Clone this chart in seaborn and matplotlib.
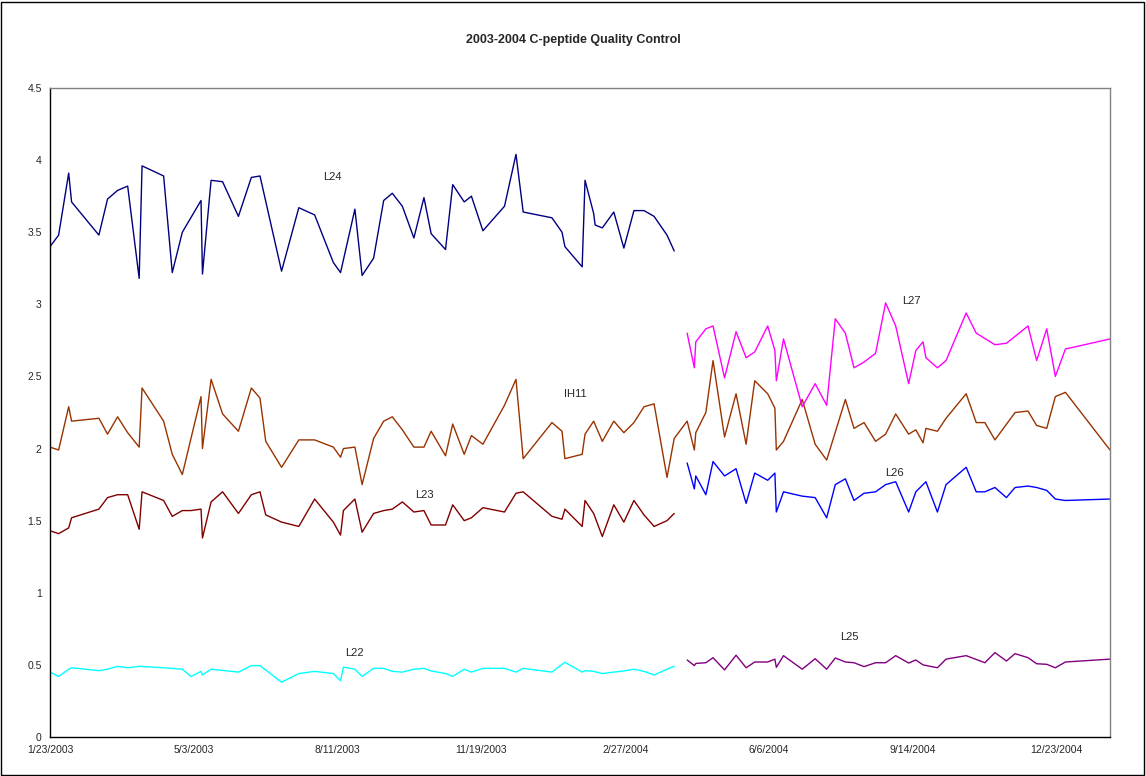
import pandas as pd
import matplotlib.pyplot as plt
import matplotlib.ticker as mticker
from matplotlib.patches import Rectangle
import seaborn as sns

# Days since 1/23/2003 for each QC run
start = pd.Timestamp("2003-01-23")
left_days = [0, 6, 13, 15, 34, 40, 47, 54, 62, 64, 79, 85, 92, 98, 105, 106, 112, 120, 131, 140,
             146, 150, 161, 173, 184, 197, 202, 204, 212, 217, 225, 232, 238, 245, 253, 260, 265, 275, 280, 288,
             293, 301, 316, 324, 329, 349, 356, 358, 370, 372, 378, 379, 384, 392, 399, 406, 413, 420, 429, 434]
right_days = [443, 448, 449, 456, 461, 469, 477, 484, 490, 499, 504, 505, 510, 523, 532, 540, 546, 553, 559, 566,
              574, 581, 588, 597, 602, 607, 609, 617, 623, 637, 644, 650, 657, 665, 671, 680, 686, 693, 699, 706, 737]

N = None
L24 = [3.40, 3.48, 3.91, 3.71, 3.48, 3.73, 3.79, 3.82, 3.18, 3.96, 3.89, 3.22, 3.50, N, 3.72, 3.21, 3.86, 3.85, 3.61, 3.88,
       3.89, N, 3.23, 3.67, 3.62, 3.29, 3.22, N, 3.66, 3.20, 3.32, 3.72, 3.77, 3.68, 3.46, 3.74, 3.49, 3.38, 3.83, 3.71,
       3.75, 3.51, 3.68, 4.04, 3.64, 3.60, 3.50, 3.40, 3.26, 3.86, 3.63, 3.55, 3.53, 3.64, 3.39, 3.65, 3.65, 3.61, 3.48, 3.37]
IH11_left = [2.01, 1.99, 2.29, 2.19, 2.21, 2.10, 2.22, 2.11, 2.01, 2.42, 2.19, 1.96, 1.82, N, 2.36, 2.00, 2.48, 2.24, 2.12, 2.42,
             2.35, 2.05, 1.87, 2.06, 2.06, 2.01, 1.94, 2.00, 2.01, 1.75, 2.07, 2.19, 2.22, 2.13, 2.01, 2.01, 2.12, 1.95, 2.17, 1.96,
             2.09, 2.03, 2.30, 2.48, 1.93, 2.18, 2.12, 1.93, 1.96, 2.10, 2.19, N, 2.05, 2.19, 2.11, 2.18, 2.29, 2.31, 1.80, 2.07]
L23 = [1.43, 1.41, 1.45, 1.52, 1.58, 1.66, 1.68, 1.68, 1.44, 1.70, 1.64, 1.53, 1.57, 1.57, 1.58, 1.38, 1.63, 1.70, 1.55, 1.68,
       1.70, 1.54, 1.49, 1.46, 1.65, 1.49, 1.40, 1.57, 1.65, 1.42, 1.55, 1.57, 1.58, 1.63, 1.56, 1.57, 1.47, 1.47, 1.61, 1.50,
       1.52, 1.59, 1.56, 1.69, 1.70, 1.53, 1.51, 1.58, 1.46, 1.64, 1.55, N, 1.39, 1.61, 1.49, 1.64, 1.54, 1.46, 1.50, 1.55]
L22 = [0.45, 0.42, 0.47, 0.48, 0.46, 0.47, 0.49, 0.48, 0.49, N, 0.48, N, 0.47, 0.42, 0.455, 0.43, 0.47, N, 0.45, 0.495,
       0.495, N, 0.38, 0.44, 0.455, 0.44, 0.39, 0.485, 0.47, 0.42, 0.476, 0.476, 0.455, 0.45, 0.47, 0.476, 0.458, 0.44, 0.42, 0.47,
       0.45, 0.476, 0.476, 0.45, 0.476, 0.45, N, 0.518, 0.45, 0.46, 0.455, N, 0.44, 0.45, 0.458, 0.47, 0.455, 0.43, 0.47, 0.49]

IH11_right = [2.19, 1.99, 2.11, 2.25, 2.61, 2.08, 2.38, 2.03, 2.47, 2.38, 2.28, 1.99, 2.05, 2.34, 2.03, 1.92, N, 2.34, 2.14, 2.18,
              2.05, 2.10, 2.24, 2.10, 2.13, 2.04, 2.14, 2.12, 2.21, 2.38, 2.18, 2.18, 2.06, N, 2.25, 2.26, 2.16, 2.14, 2.36, 2.39, 1.99]
L27 = [2.80, 2.56, 2.74, 2.83, 2.85, 2.49, 2.81, 2.63, 2.67, 2.85, 2.68, 2.47, 2.76, 2.29, 2.45, 2.30, 2.90, 2.80, 2.56, 2.60,
       2.66, 3.01, 2.85, 2.45, 2.68, 2.74, 2.63, 2.56, 2.61, 2.94, 2.80, N, 2.72, 2.73, N, 2.85, 2.61, 2.83, 2.50, 2.69, 2.76]
L26 = [1.90, 1.72, 1.81, 1.68, 1.91, 1.81, 1.86, 1.62, 1.83, 1.78, 1.83, 1.56, 1.70, 1.67, 1.66, 1.52, 1.75, 1.79, 1.64, 1.69,
       1.70, 1.75, 1.77, 1.56, 1.70, N, 1.77, 1.56, 1.75, 1.87, 1.70, 1.70, 1.73, 1.66, 1.73, 1.74, 1.73, 1.71, 1.65, 1.64, 1.65]
L25 = [0.534, 0.495, 0.51, 0.515, 0.55, 0.465, 0.567, 0.48, 0.52, 0.52, 0.54, 0.483, 0.564, 0.47, 0.543, 0.47, 0.548, 0.52, 0.515, 0.488,
       0.515, 0.515, 0.564, 0.513, 0.534, 0.50, N, 0.48, 0.54, 0.564, N, 0.515, 0.585, 0.527, 0.578, 0.55, 0.508, 0.504, 0.48, 0.52, 0.54]

left = pd.DataFrame({"date": start + pd.to_timedelta(left_days, unit="D"),
                     "L24": L24, "IH11": IH11_left, "L23": L23, "L22": L22})
right = pd.DataFrame({"date": start + pd.to_timedelta(right_days, unit="D"),
                      "IH11": IH11_right, "L27": L27, "L26": L26, "L25": L25})
ih11 = pd.concat([left[["date", "IH11"]], right[["date", "IH11"]]])

colors = {"L24": "#000080", "IH11": "#993300", "L23": "#800000", "L22": "#00FFFF",
          "L27": "#FF00FF", "L26": "#0000FF", "L25": "#800080"}

sns.set_style("white")
plt.rcParams["font.family"] = ["Liberation Sans", "DejaVu Sans"]

fig = plt.figure(figsize=(11.46, 7.76), dpi=100)
ax = fig.add_axes([50 / 1146, 39 / 776, 1060 / 1146, 649 / 776])

def draw(df, col):
    d = df[["date", col]].dropna()
    sns.lineplot(data=d, x="date", y=col, color=colors[col], linewidth=1.0,
                 estimator=None, sort=True, ax=ax)

for c in ["L24", "L23", "L22"]:
    draw(left, c)
draw(ih11, "IH11")
for c in ["L27", "L26", "L25"]:
    draw(right, c)

# series labels
labels = [("L24", 196, 3.88), ("IH11", 365, 2.38), ("L23", 260, 1.68), ("L22", 212, 0.58),
          ("L27", 599, 3.02), ("L26", 587, 1.83), ("L25", 556, 0.69)]
for name, d, v in labels:
    ax.text(start + pd.Timedelta(days=d), v, name, fontsize=8, ha="center", va="center")

ax.set_xlim(start, start + pd.Timedelta(days=737))
ax.set_ylim(0, 4.5)
ax.set_yticks([i * 0.5 for i in range(10)])
ax.yaxis.set_major_formatter(mticker.FormatStrFormatter("%g"))
xt = pd.date_range(start, periods=8, freq="100D")
ax.set_xticks(xt)
ax.set_xticklabels([f"{d.month}/{d.day}/{d.year}" for d in xt])
ax.tick_params(axis="both", labelsize=7.5, length=3, width=0.8, color="black")
ax.tick_params(axis="x", direction="inout", length=5, pad=3)
ax.tick_params(axis="y", direction="out", pad=3)
ax.set_xlabel("")
ax.set_ylabel("")
for s in ["left", "bottom"]:
    ax.spines[s].set_color("black")
    ax.spines[s].set_linewidth(1.0)
for s in ["top", "right"]:
    ax.spines[s].set_color("#808080")
    ax.spines[s].set_linewidth(1.0)

fig.text(0.5, 0.948, "2003-2004 C-peptide Quality Control", ha="center", va="center",
         fontsize=9, fontweight="bold")
fig.add_artist(Rectangle((0.001, 0.001), 0.997, 0.997, transform=fig.transFigure,
                         fill=False, edgecolor="black", linewidth=1))

fig.savefig("out.png", dpi=100)
